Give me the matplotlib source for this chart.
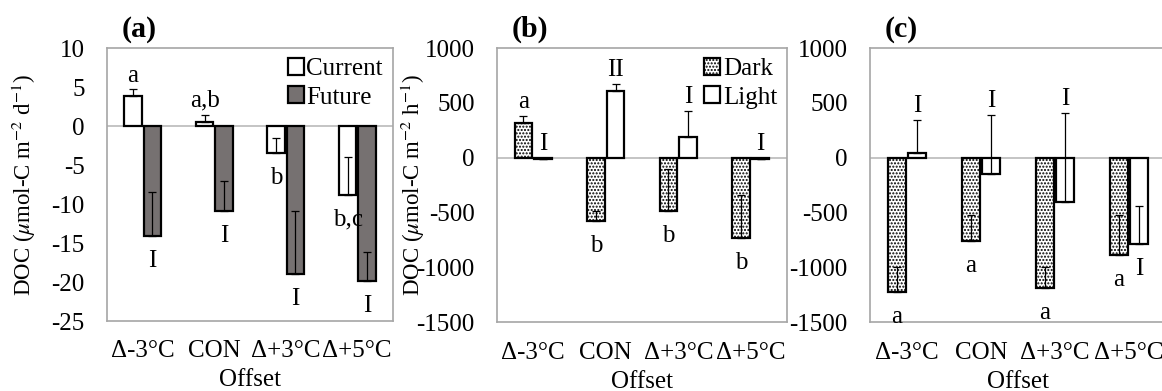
import matplotlib
matplotlib.use("Agg")
import matplotlib.pyplot as plt
import matplotlib.patches as patches
import numpy as np

plt.rcParams.update(
    {
        "font.family": ["Liberation Serif", "DejaVu Serif"],
        "mathtext.fontset": "stix",
        "font.size": 18,
        "axes.unicode_minus": False,
        "hatch.linewidth": 1.0,
    }
)

offsets = ["Δ-3°C", "CON", "Δ+3°C", "Δ+5°C"]

# (a) DOC daily flux
current = [3.9, 0.55, -3.4, -8.8]
current_err = [0.8, 0.9, 1.9, 4.8]
future = [-14.1, -10.9, -19.0, -19.9]
future_err = [5.7, 3.9, 8.1, 3.7]
current_lbl = ["a", "a,b", "b", "b,c"]
current_pos = ["above", "above", "below", "below"]
future_lbl = ["I", "I", "I", "I"]
future_pos = ["below", "below", "below", "below"]

# (b) DOC hourly flux, current
dark_b = [321, -577, -485, -728]
dark_b_err = [60, 92, 386, 392]
light_b = [-15, 610, 190, -15]
light_b_err = [0, 60, 240, 0]
dark_b_lbl = ["a", "b", "b", "b"]
dark_b_pos = ["above", "below", "below", "below"]
light_b_lbl = ["I", "II", "I", "I"]
light_b_pos = ["above", "above", "above", "above"]

# (c) DOC hourly flux, future
dark_c = [-1228, -764, -1185, -886]
dark_c_err = [232, 246, 189, 361]
light_c = [47, -148, -403, -783]
light_c_err = [295, 536, 811, 343]
dark_c_lbl = ["a", "a", "a", "a"]
dark_c_pos = ["below", "below", "below", "below"]
light_c_lbl = ["I", "I", "I", "I"]
light_c_pos = ["above", "above", "above", "below"]

SPINE = "#a6a6a6"
ZERO = "#bfbfbf"
W = 0.245
OFF = 0.135


def draw_series(ax, xs, vals, errs, labels, pos, style):
    ax.bar(xs, vals, W, zorder=2, **style)
    ax.errorbar(
        xs, vals, yerr=[np.zeros(len(errs)), errs], fmt="none",
        ecolor="black", elinewidth=0.9, capsize=3, capthick=0.9, zorder=3,
    )
    for x, v, e, t, p in zip(xs, vals, errs, labels, pos):
        if p == "above":
            y = max(v + e, v, 0)
            ax.annotate(t, (x, y), xytext=(0, 10), textcoords="offset points",
                        ha="center", va="center")
        else:
            y = min(v, 0)
            ax.annotate(t, (x, y), xytext=(0, -18), textcoords="offset points",
                        ha="center", va="center")


def style_axes(ax, ylim, step, title):
    ax.set_xlim(-0.5, 3.5)
    ax.set_ylim(*ylim)
    ax.set_yticks(np.arange(ylim[0], ylim[1] + step / 2, step))
    ax.set_xticks(range(len(offsets)))
    ax.set_xticklabels(offsets)
    ax.tick_params(length=0)
    ax.tick_params(axis="y", pad=16)
    ax.tick_params(axis="x", pad=14)
    for sp in ax.spines.values():
        sp.set_color(SPINE)
        sp.set_linewidth(1.2)
    ax.axhline(0, color=ZERO, lw=1.3, zorder=1)
    ax.set_xlabel("Offset", labelpad=5)
    ax.set_title(title, fontweight="bold", loc="left", x=0.05, pad=8)


white = dict(facecolor="white", edgecolor="black", linewidth=1.6)
gray = dict(facecolor="#767171", edgecolor="black", linewidth=1.6)
dotted = dict(facecolor="white", edgecolor="black", linewidth=1.6, hatch=".....")

legend_kw = dict(
    loc="upper right", frameon=False, handlelength=0.65, handleheight=0.65,
    handletextpad=0.1, borderaxespad=0.2, borderpad=0.2, labelspacing=0.25,
)

fig = plt.figure(figsize=(11.62, 3.91), dpi=100)
ax_a = fig.add_axes([0.0921, 0.179, 0.2461, 0.698])
ax_b = fig.add_axes([0.4277, 0.176, 0.2496, 0.701])
ax_c = fig.add_axes([0.7487, 0.176, 0.2547, 0.701])

x = np.arange(len(offsets))

draw_series(ax_a, x - OFF, current, current_err, current_lbl, current_pos, white)
draw_series(ax_a, x + OFF, future, future_err, future_lbl, future_pos, gray)
style_axes(ax_a, (-25, 10), 5, "(a)")
ax_a.set_ylabel("DOC ($\\mathit{\\mu}$mol-C m$^{-2}$ d$^{-1}$)", fontsize=16.5)
ax_a.yaxis.set_label_coords(-0.243, 0.5)
ax_a.legend(
    handles=[patches.Patch(**white, label="Current"), patches.Patch(**gray, label="Future")],
    **legend_kw,
)

draw_series(ax_b, x - OFF, dark_b, dark_b_err, dark_b_lbl, dark_b_pos, dotted)
draw_series(ax_b, x + OFF, light_b, light_b_err, light_b_lbl, light_b_pos, white)
style_axes(ax_b, (-1500, 1000), 500, "(b)")
ax_b.set_ylabel("DOC ($\\mathit{\\mu}$mol-C m$^{-2}$ h$^{-1}$)", fontsize=16.5)
ax_b.yaxis.set_label_coords(-0.243, 0.5)
ax_b.legend(
    handles=[patches.Patch(**dotted, label="Dark"), patches.Patch(**white, label="Light")],
    **legend_kw,
)

draw_series(ax_c, x - OFF, dark_c, dark_c_err, dark_c_lbl, dark_c_pos, dotted)
draw_series(ax_c, x + OFF, light_c, light_c_err, light_c_lbl, light_c_pos, white)
style_axes(ax_c, (-1500, 1000), 500, "(c)")

fig.savefig("out.png", dpi=100)
